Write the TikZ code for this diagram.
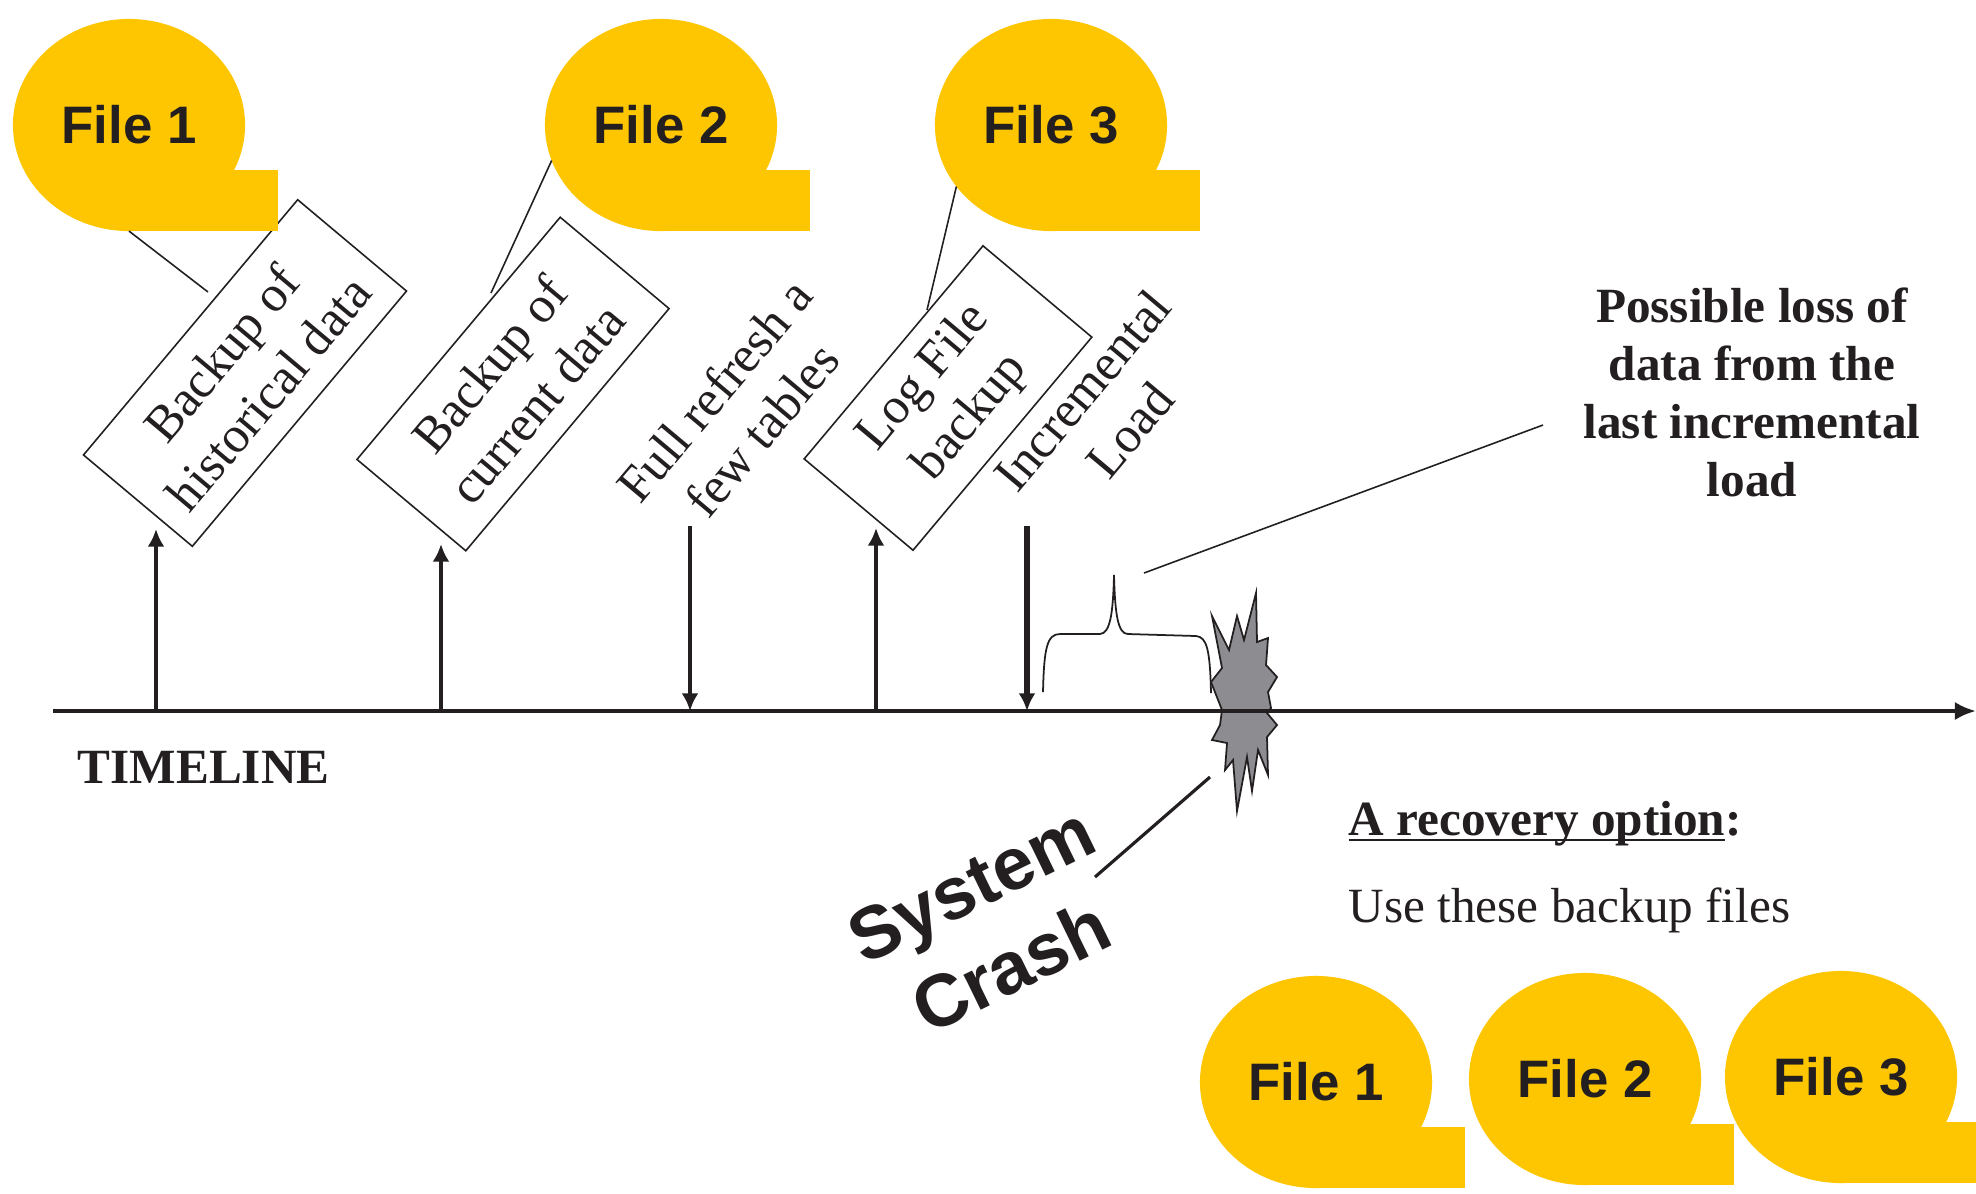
\documentclass[tikz,border=0pt]{standalone}
\usepackage{fontspec}
\setmainfont{Liberation Serif}
\newfontfamily\bubblefont{Liberation Sans}
\usetikzlibrary{arrows.meta,shapes.geometric}
\definecolor{fileyellow}{RGB}{253,198,0}
\definecolor{inkgray}{RGB}{35,31,32}
\definecolor{crashgray}{RGB}{140,140,145}
\newcommand\ulinetxt[1]{\leavevmode\setbox0\hbox{#1}\rlap{\rule[-1.6pt]{\wd0}{0.6pt}}\box0}
\tikzset{
  filebubble/.style={ellipse,fill=fileyellow,minimum width=2.32cm,minimum height=2.12cm,inner sep=0pt,outer sep=0pt,text=inkgray,font=\bubblefont\bfseries\fontsize{15}{17}\selectfont},
  backupbox/.style={draw=inkgray,line width=0.45pt,rotate=50,align=center,inner sep=0pt,minimum height=1.42cm,text=inkgray,font=\fontsize{14.5}{17.5}\selectfont},
  slanted/.style={rotate=50,align=center,inner sep=0pt,text=inkgray,font=\fontsize{14.5}{17.5}\selectfont},
  plaintext/.style={inner sep=0pt,text=inkgray,font=\fontsize{14}{17}\selectfont},
  eventarrow/.style={-{Latex[length=5pt,width=4.8pt]},line width=1.1pt,draw=inkgray},
  callout/.style={draw=inkgray,line width=0.45pt}
}

\begin{document}
\begin{tikzpicture}[x=0.01cm,y=-0.01cm]
\clip (0,0) rectangle (1976,1193);
\fill[white] (0,0) rectangle (1976,1193);

% crash burst, under the time axis
\coordinate (crash) at (1244,711);
\begin{scope}[shift={(crash)}]
\draw[fill=crashgray,draw=inkgray,line width=0.5pt,line join=miter]
  (-32,-95) -- (-15,-61) -- (-7,-95) -- (0,-71) -- (12,-118) -- (13,-69)
  -- (24,-73) -- (22,-46) -- (33,-34) -- (24,-19) -- (27,-3) -- (23,2)
  -- (33,14) -- (23,26) -- (24,64) -- (14,39) -- (8,80) -- (3,46)
  -- (-7,100) -- (-11,49) -- (-19,59) -- (-17,32) -- (-32,29) -- (-24,14)
  -- (-22,-1) -- (-33,-29) -- (-22,-43) -- cycle;
\end{scope}

\coordinate (t0) at (53,711);
\coordinate (tend) at (1976,711);
\draw[-{Latex[length=6pt,width=5.2pt]},line width=1.25pt,draw=inkgray] (t0) -- (tend);

\coordinate (m1) at (156,711);  \coordinate (m1top) at (156,529);
\coordinate (m2) at (441,711);  \coordinate (m2top) at (441,544);
\coordinate (m3) at (690,711);  \coordinate (m3top) at (690,526);
\coordinate (m4) at (876,711);  \coordinate (m4top) at (876,528);
\coordinate (m5) at (1027,711); \coordinate (m5top) at (1027,526);
\draw[eventarrow] (m1) -- (m1top);
\draw[eventarrow] (m2) -- (m2top);
\draw[eventarrow] (m3top) -- (m3);
\draw[eventarrow] (m4) -- (m4top);
\draw[eventarrow,line width=1.7pt] (m5top) -- (m5);

\node (b1) [backupbox,minimum width=3.33cm] at (245,373) {Backup of\\historical data};
\node (b2) [backupbox,minimum width=3.16cm] at (513,384) {Backup of\\current data};
\node (b3) [backupbox,minimum width=2.78cm] at (948,398) {Log File\\backup};
\node (fullref) [slanted] at (738,410) {Full refresh a\\few tables};
\node (incload) [slanted] at (1106,410) {Incremental\\Load};

% gap after the last load
\draw[callout,line width=0.5pt] (1043,692) .. controls (1044,648) and (1047,634) .. (1060,634)
  -- (1100,634) .. controls (1110,633) and (1113,615) .. (1114,575)
  .. controls (1115,615) and (1118,634) .. (1128,634)
  -- (1196,636) .. controls (1207,637) and (1210,650) .. (1211,693);
\coordinate (gaptip) at (1144,573);
\coordinate (lossfoot) at (1543,425);
\draw[callout] (lossfoot) -- (gaptip);
\node (lossnote) [plaintext,align=center,font=\bfseries\fontsize{14}{16.5}\selectfont] at (1752,392)
  {Possible loss of\\data from the\\last incremental\\load};

\node (timelbl) [plaintext,anchor=base west,font=\bfseries\fontsize{14}{17}\selectfont] at (77,783) {TIMELINE};
\node (crashlbl) [rotate=26,align=center,inner sep=0pt,text=inkgray,font=\bubblefont\bfseries\fontsize{21}{26}\selectfont] at (991,926) {System\\Crash};
\coordinate (crashfoot) at (1095,877);
\coordinate (crashhit) at (1210,777);
\draw[line width=0.9pt,draw=inkgray] (crashfoot) -- (crashhit);

\node (recov) [plaintext,anchor=base west,font=\bfseries\fontsize{14}{17}\selectfont] at (1348,835) {\ulinetxt{A recovery option}:};
\node (usefiles) [plaintext,anchor=base west] at (1348,922) {Use these backup files};

% backup files on top
\node (f1) [filebubble] at (129,125) {File 1};
\fill[fileyellow] (f1.south) rectangle ++(149,-61);
\node (f2) [filebubble] at (661,125) {File 2};
\fill[fileyellow] (f2.south) rectangle ++(149,-61);
\node (f3) [filebubble] at (1051,125) {File 3};
\fill[fileyellow] (f3.south) rectangle ++(149,-61);

\coordinate (b1hook) at (208,292);
\coordinate (b2hook) at (491,293);
\coordinate (b3hook) at (927,310);
\draw[callout] (f1.south) -- (b1hook);
\draw[callout] (f2.198) -- (b2hook);
\draw[callout] (f3.213) -- (b3hook);

% files to restore from
\node (r1) [filebubble] at (1316,1082) {File 1};
\fill[fileyellow] (r1.south) rectangle ++(149,-61);
\node (r2) [filebubble] at (1585,1079) {File 2};
\fill[fileyellow] (r2.south) rectangle ++(149,-61);
\node (r3) [filebubble] at (1841,1077) {File 3};
\fill[fileyellow] (r3.south) rectangle ++(149,-61);
\end{tikzpicture}
\end{document}
